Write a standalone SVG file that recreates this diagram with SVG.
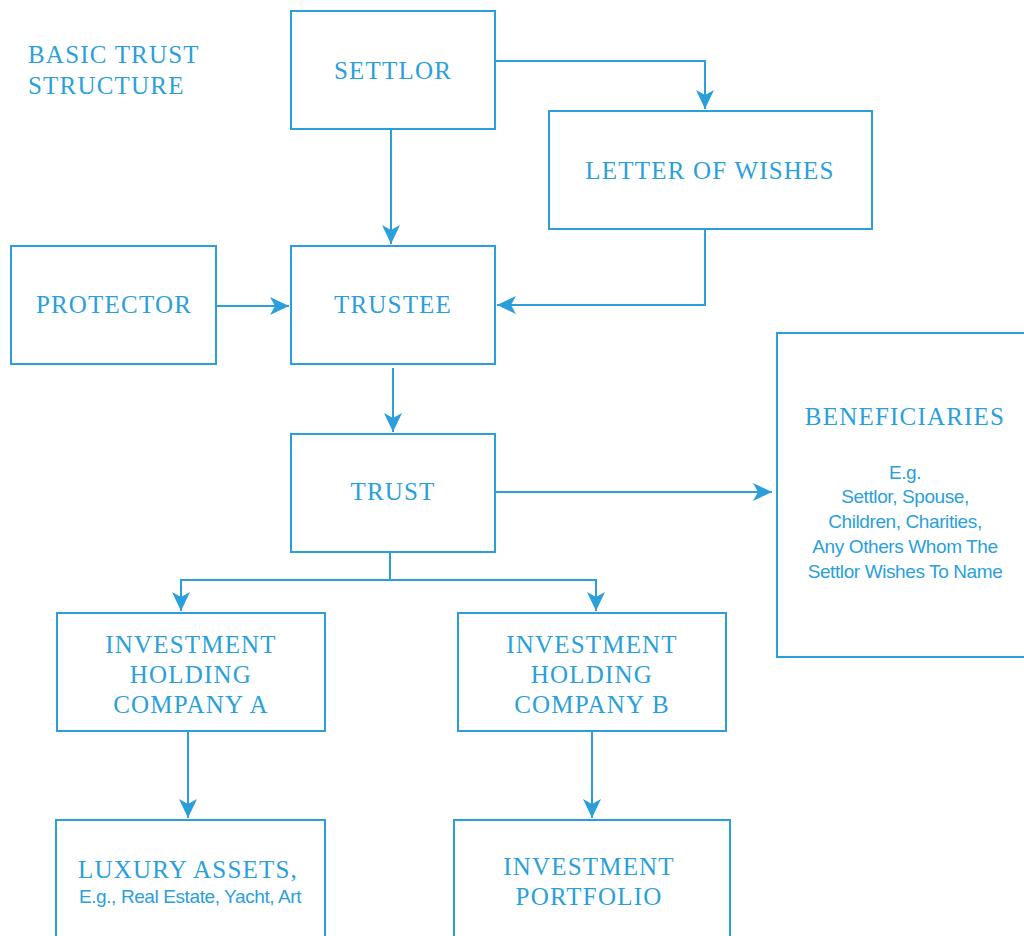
<svg xmlns="http://www.w3.org/2000/svg" width="1024" height="936" viewBox="0 0 1024 936">
<defs>
<style>
.box{fill:#fff;stroke:#2a9fdb;stroke-width:2}
.serif{font-family:"Liberation Serif","DejaVu Serif",serif;fill:#2a9fdb;font-size:25px;letter-spacing:1.2px;text-anchor:middle}
.sans{font-family:"Liberation Sans","DejaVu Sans",sans-serif;fill:#2a9fdb;font-size:19px;letter-spacing:-0.4px;text-anchor:middle}
.conn{fill:none;stroke:#2a9fdb;stroke-width:2}
</style>
<marker id="arr" markerUnits="userSpaceOnUse" markerWidth="22" markerHeight="20" refX="19" refY="9" orient="auto">
<path d="M0,0 L19,9 L0,18 L5,9 z" fill="#2a9fdb"/>
</marker>
</defs>
<rect width="1024" height="936" fill="#fff"/>
<g id="title">
<text class="serif" x="28" y="63" style="text-anchor:start">BASIC TRUST</text>
<text class="serif" x="28" y="94" style="text-anchor:start">STRUCTURE</text>
</g>
<g id="connectors">
<path class="conn" d="M495,61 H705 V109" marker-end="url(#arr)"/>
<path class="conn" d="M391,129 V244" marker-end="url(#arr)"/>
<path class="conn" d="M705,229 V305 H497" marker-end="url(#arr)"/>
<path class="conn" d="M216,306 H289" marker-end="url(#arr)"/>
<path class="conn" d="M393,368 V432" marker-end="url(#arr)"/>
<path class="conn" d="M495,492 H772" marker-end="url(#arr)"/>
<path class="conn" d="M390,552 V580"/>
<path class="conn" d="M390,580 H181 V611" marker-end="url(#arr)"/>
<path class="conn" d="M390,580 H596 V611" marker-end="url(#arr)"/>
<path class="conn" d="M188,731 V818" marker-end="url(#arr)"/>
<path class="conn" d="M592,731 V818" marker-end="url(#arr)"/>
</g>
<g id="settlor">
<rect class="box" x="291" y="11" width="204" height="118"/>
<text class="serif" x="393" y="79">SETTLOR</text>
</g>
<g id="letter">
<rect class="box" x="549" y="111" width="323" height="118"/>
<text class="serif" x="710" y="179">LETTER OF WISHES</text>
</g>
<g id="protector">
<rect class="box" x="11" y="246" width="205" height="118"/>
<text class="serif" x="114" y="313">PROTECTOR</text>
</g>
<g id="trustee">
<rect class="box" x="291" y="246" width="204" height="118"/>
<text class="serif" x="393" y="313">TRUSTEE</text>
</g>
<g id="trust">
<rect class="box" x="291" y="434" width="204" height="118"/>
<text class="serif" x="393" y="500">TRUST</text>
</g>
<g id="beneficiaries">
<rect class="box" x="777" y="333" width="260" height="324"/>
<text class="serif" x="905" y="425">BENEFICIARIES</text>
<text class="sans" x="905" y="479">E.g.</text>
<text class="sans" x="905" y="503">Settlor, Spouse,</text>
<text class="sans" x="905" y="528">Children, Charities,</text>
<text class="sans" x="905" y="553">Any Others Whom The</text>
<text class="sans" x="905" y="578">Settlor Wishes To Name</text>
</g>
<g id="companyA">
<rect class="box" x="57" y="613" width="268" height="118"/>
<text class="serif" x="191" y="653">INVESTMENT</text>
<text class="serif" x="191" y="683">HOLDING</text>
<text class="serif" x="191" y="713">COMPANY A</text>
</g>
<g id="companyB">
<rect class="box" x="458" y="613" width="268" height="118"/>
<text class="serif" x="592" y="653">INVESTMENT</text>
<text class="serif" x="592" y="683">HOLDING</text>
<text class="serif" x="592" y="713">COMPANY B</text>
</g>
<g id="luxury">
<rect class="box" x="56" y="820" width="269" height="130"/>
<text class="serif" x="188" y="878">LUXURY ASSETS,</text>
<text class="sans" x="190" y="903">E.g., Real Estate, Yacht, Art</text>
</g>
<g id="portfolio">
<rect class="box" x="454" y="820" width="276" height="130"/>
<text class="serif" x="589" y="875">INVESTMENT</text>
<text class="serif" x="589" y="905">PORTFOLIO</text>
</g>
</svg>
